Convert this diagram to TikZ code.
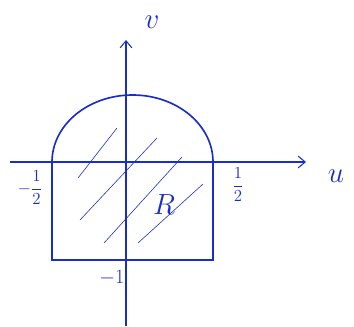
\documentclass[tikz,border=0pt]{standalone}
\usepackage{amsmath}
\usetikzlibrary{arrows.meta,positioning}
\definecolor{penblue}{RGB}{25,45,200}
\begin{document}
\begin{tikzpicture}[x=0.03cm,y=0.03cm,
    pen/.style={penblue, line width=0.9pt},
    hatch/.style={penblue, line width=0.5pt},
    lbl/.style={text=penblue, inner sep=1pt}]
    \useasboundingbox (0,0) rectangle (354,326);
    % axes
    \coordinate (O) at (126,164);
    \coordinate (uL) at (10,164);
    \coordinate (uR) at (306,164);
    \coordinate (vB) at (126,0);
    \coordinate (vT) at (126,286);
    \draw[pen, -{Straight Barb[length=6pt,width=10pt]}] (uL) -- (uR);
    \draw[pen, -{Straight Barb[length=6pt,width=10pt]}] (vB) -- (vT);
    \node[lbl, font=\Huge] (u) at (336,150) {$u$};
    \node[lbl, font=\Huge] (v) at (152,304) {$v$};
    % region R
    \coordinate (A) at (52,164);
    \coordinate (B) at (52,66);
    \coordinate (C) at (213,66);
    \coordinate (D) at (213,164);
    \draw[pen, line width=1.4pt] (A) arc[start angle=180, end angle=0, x radius=80.5, y radius=67];
    \draw[pen] (A) -- (B) -- (C) -- (D);
    % hatching
    \draw[hatch] (78,148) -- (117,198);
    \draw[hatch] (80,106) -- (157,188);
    \draw[hatch] (104,83) -- (182,169);
    \draw[hatch] (138,83) -- (203,142);
    % labels
    \node[lbl, font=\Large] (mhalf) at (30,138) {$-\dfrac{1}{2}$};
    \node[lbl, font=\Large] (half) at (238,141) {$\dfrac{1}{2}$};
    \node[lbl, font=\LARGE] (mone) at (112,48) {$-1$};
    \node[lbl, font=\Huge] (R) at (164,121) {$R$};
\end{tikzpicture}
\end{document}
